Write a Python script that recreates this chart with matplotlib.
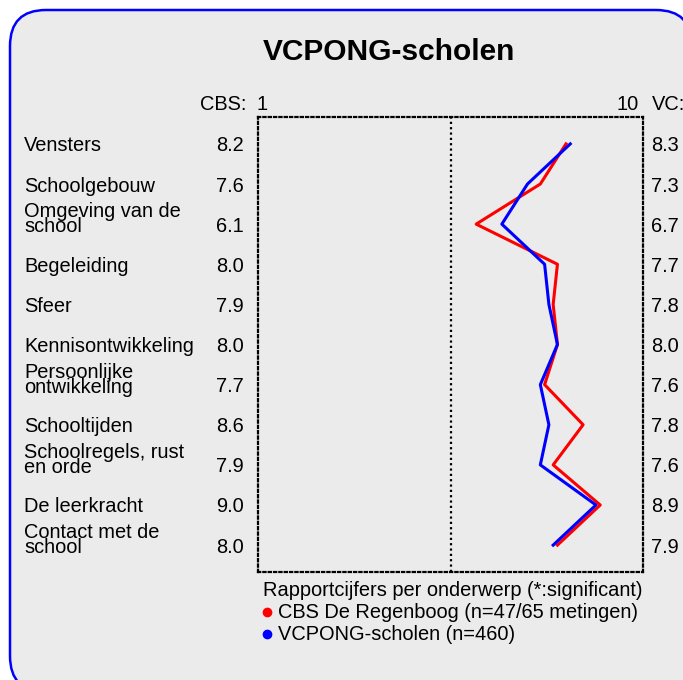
import matplotlib
matplotlib.use("Agg")
import matplotlib.pyplot as plt
from matplotlib.patches import FancyBboxPatch
from matplotlib.transforms import blended_transform_factory

plt.rcParams['font.family'] = ['Liberation Sans', 'DejaVu Sans']

# data
onderwerpen = ["Vensters", "Schoolgebouw", "Omgeving van de\nschool", "Begeleiding",
               "Sfeer", "Kennisontwikkeling", "Persoonlijke\nontwikkeling",
               "Schooltijden", "Schoolregels, rust\nen orde", "De leerkracht",
               "Contact met de\nschool"]
cbs = [8.2, 7.6, 6.1, 8.0, 7.9, 8.0, 7.7, 8.6, 7.9, 9.0, 8.0]
vc = [8.3, 7.3, 6.7, 7.7, 7.8, 8.0, 7.6, 7.8, 7.6, 8.9, 7.9]
legend_labels = ["CBS De Regenboog (n=47/65 metingen)", "VCPONG-scholen (n=460)"]
colors = ["#ff0000", "#0000ff"]

W, H = 683, 680
fig = plt.figure(figsize=(W / 100, H / 100), dpi=100)
fig.patch.set_facecolor("white")

# rounded panel (in inches), kept behind the axes
box = FancyBboxPatch((0.10, -0.12), 6.82, 6.82, boxstyle="round,pad=0,rounding_size=0.36",
                     transform=fig.dpi_scale_trans, facecolor="#ebebeb",
                     edgecolor="#0000ff", linewidth=1.8, zorder=-5)
fig.patches.append(box)

def fx(px):
    return px / W

def fy(py):
    return 1 - py / H

ax = fig.add_axes([fx(258), fy(572), fx(643) - fx(258), fy(117) - fy(572)])
ax.set_zorder(2)
ax.set_facecolor("none")
ax.set_xlim(1, 10)
ax.set_ylim(10.67, -0.67)
ax.set_xticks([])
ax.set_yticks([])
dots = (0, (1, 1.4))
for sp in ax.spines.values():
    sp.set_linestyle(dots)
    sp.set_linewidth(1.6)
    sp.set_color("black")
ax.axvline(5.5, color="black", linestyle=dots, linewidth=1.6)

rows = list(range(len(onderwerpen)))
ax.plot(cbs, rows, color=colors[0], linewidth=2.2, clip_on=False)
ax.plot(vc, rows, color=colors[1], linewidth=2.2, clip_on=False)

tr = blended_transform_factory(fig.transFigure, ax.transData)
fs = 14.4
dy = 0.05
for i, lab in enumerate(onderwerpen):
    off = -0.17 if "\n" in lab else 0
    ax.text(fx(24), i + off + dy, lab, transform=tr, ha="left", va="center",
            fontsize=fs, linespacing=0.72, clip_on=False)
    ax.text(fx(244), i + dy, f"{cbs[i]:.1f}", transform=tr, ha="right", va="center",
            fontsize=fs, clip_on=False)
    ax.text(fx(651), i + dy, f"{vc[i]:.1f}", transform=tr, ha="left", va="center",
            fontsize=fs, clip_on=False)

fig.text(fx(389), fy(52), "VCPONG-scholen", ha="center", va="center",
         fontsize=21.5, fontweight="bold")
fig.text(fx(246), fy(104), "CBS:", ha="right", va="center", fontsize=fs)
fig.text(fx(257), fy(104), "1", ha="left", va="center", fontsize=fs)
fig.text(fx(639), fy(104), "10", ha="right", va="center", fontsize=fs)
fig.text(fx(652), fy(104), "VC:", ha="left", va="center", fontsize=fs)

fig.text(fx(263), fy(591), "Rapportcijfers per onderwerp (*:significant)",
         ha="left", va="center", fontsize=fs)
for k, (lab, c) in enumerate(zip(legend_labels, colors)):
    y = 612 + k * 22
    fig.add_artist(plt.Line2D([fx(267)], [fy(y)], marker="o", markersize=6,
                              color=c, linestyle="none", transform=fig.transFigure))
    fig.text(fx(278), fy(y + 1), lab, ha="left", va="center", fontsize=fs)

fig.savefig("out.png", dpi=100)
